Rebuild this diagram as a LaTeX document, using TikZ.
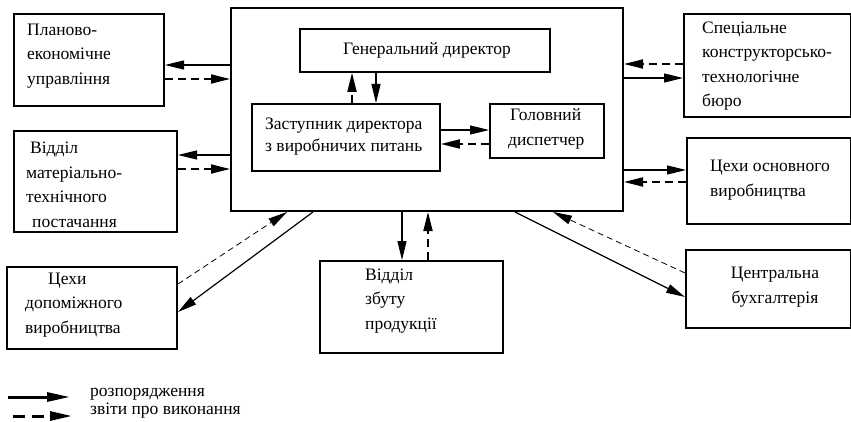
\documentclass[tikz,border=0pt]{standalone}
\usepackage{fontspec}
\setmainfont{Liberation Serif}
\usetikzlibrary{arrows.meta}
\begin{document}
\begin{tikzpicture}[x=1pt,y=-1pt,
  box/.style={draw,line width=2pt,rectangle,inner sep=0pt,anchor=north west},
  inbox/.style={draw,line width=1.8pt,rectangle,inner sep=0pt,anchor=north west},
  txt/.style={inner sep=0pt,align=left,anchor=west,font=\fontsize{17.5}{24.5}\selectfont},
  tip/.style={-{Triangle[length=19pt,width=9pt]}},
  cmd/.style={tip,line width=1.2pt},
  rep/.style={tip,line width=1.8pt,dash pattern=on 8pt off 5pt},
  repthin/.style={tip,line width=0.8pt,dash pattern=on 6pt off 4pt}]
\useasboundingbox (0,0) rectangle (851,422);

% main block
\node[box,minimum width=392pt,minimum height=203pt] (main) at (230,7) {};
\node[inbox,minimum width=250pt,minimum height=43pt] (hen) at (299,28) {};
\node[inbox,minimum width=188pt,minimum height=67pt] (zast) at (251,103) {};
\node[inbox,minimum width=114pt,minimum height=54pt] (hol) at (489,103) {};

% surrounding departments
\node[box,minimum width=150pt,minimum height=92pt] (pl) at (13,13) {};
\node[box,minimum width=163pt,minimum height=101pt] (mtp) at (13,130) {};
\node[box,minimum width=170pt,minimum height=82pt] (dop) at (6,266) {};
\node[box,minimum width=183pt,minimum height=92pt] (zb) at (319,260) {};
\node[box,minimum width=167pt,minimum height=103pt] (spec) at (683,13) {};
\node[box,minimum width=164pt,minimum height=86pt] (osn) at (686,137) {};
\node[box,minimum width=165pt,minimum height=78pt] (ts) at (685,249) {};

% labels
\node[txt,anchor=center] (then) at (427,50) {Генеральний директор};
\node[txt,font=\fontsize{17.5}{22}\selectfont] (tzast) at (265,137) {Заступник директора\\з виробничих питань};
\node[txt] (thol) at (508,129) {\hspace{2pt}Головний\\диспетчер};
\node[txt] (tpl) at (27,56) {Планово-\\економічне\\управління};
\node[txt] (tmtp) at (26,185) {\hspace{4pt}Відділ\\матеріально-\\технічного\\\hspace{6pt}постачання};
\node[txt] (tdop) at (25,305) {\hspace{23pt}Цехи\\допоміжного\\виробництва};
\node[txt] (tzb) at (365,301) {Відділ\\збуту\\продукції};
\node[txt] (tspec) at (702,66) {Спеціальне\\конструкторсько-\\технологічне\\бюро};
\node[txt] (tosn) at (710,180) {Цехи основного\\виробництва};
\node[txt,align=center,anchor=center] (tts) at (775,287) {Центральна\\бухгалтерія};

% levels and abscissae of the connectors
\coordinate (ya) at (0,65);  \coordinate (yb) at (0,79);
\coordinate (yc) at (0,155); \coordinate (yd) at (0,169);
\coordinate (ye) at (0,64);  \coordinate (yf) at (0,78);
\coordinate (yg) at (0,170); \coordinate (yh) at (0,182);
\coordinate (yi) at (0,130); \coordinate (yj) at (0,144);
\coordinate (yk) at (0,284); \coordinate (yl) at (0,312);
\coordinate (ym) at (0,297); \coordinate (yn) at (0,273);
\coordinate (xa) at (376,0); \coordinate (xb) at (352,0);
\coordinate (xc) at (402,0); \coordinate (xd) at (428,0);
\coordinate (xe) at (287,0); \coordinate (xf) at (313,0);
\coordinate (xg) at (515,0); \coordinate (xh) at (553,0);

% left side
\draw[cmd] (main.west |- ya) -- (pl.east |- ya);
\draw[rep] (pl.east |- yb) -- (main.west |- yb);
\draw[cmd] (main.west |- yc) -- (mtp.east |- yc);
\draw[rep] (mtp.east |- yd) -- (main.west |- yd);
% right side
\draw[rep] (spec.west |- ye) -- (main.east |- ye);
\draw[cmd] (main.east |- yf) -- (spec.west |- yf);
\draw[cmd] (main.east |- yg) -- (osn.west |- yg);
\draw[rep] (osn.west |- yh) -- (main.east |- yh);
% inside the main block
\draw[cmd] (hen.south -| xa) -- (zast.north -| xa);
\draw[rep] (zast.north -| xb) -- (hen.south -| xb);
\draw[cmd] (zast.east |- yi) -- (hol.west |- yi);
\draw[rep] (hol.west |- yj) -- (zast.east |- yj);
% bottom
\draw[cmd] (main.south -| xc) -- (zb.north -| xc);
\draw[rep] (zb.north -| xd) -- (main.south -| xd);
\draw[repthin] (dop.east |- yk) -- (main.south -| xe);
\draw[cmd] (main.south -| xf) -- (dop.east |- yl);
\draw[cmd] (main.south -| xg) -- (ts.west |- ym);
\draw[repthin] (ts.west |- yn) -- (main.south -| xh);

% legend
\coordinate (la) at (8,397);  \coordinate (lb) at (70,397);
\coordinate (lc) at (13,416); \coordinate (ld) at (72,416);
\draw[-{Triangle[length=23pt,width=9pt]},line width=3pt] (la) -- (lb);
\draw[-{Triangle[length=22pt,width=9pt]},line width=3pt,dash pattern=on 12pt off 7pt] (lc) -- (ld);
\node[txt] (lg1) at (90,394) {розпорядження};
\node[txt] (lg2) at (90,411) {звіти про виконання};
\end{tikzpicture}
\end{document}
